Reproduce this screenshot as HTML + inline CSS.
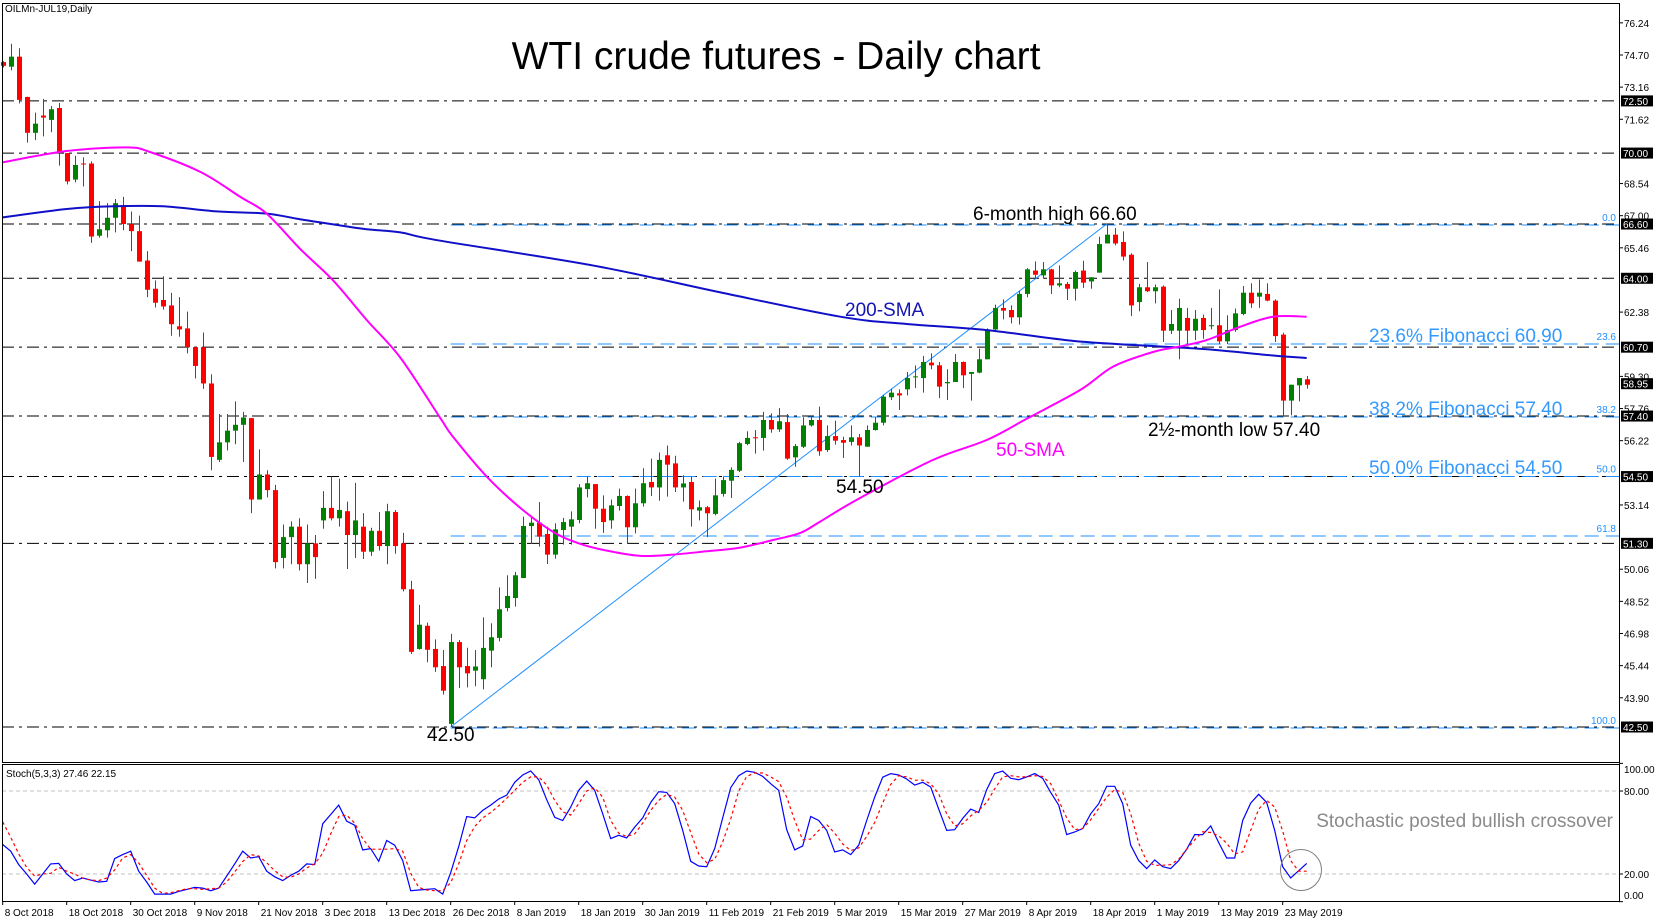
<!DOCTYPE html>
<html><head><meta charset="utf-8">
<style>
html,body{margin:0;padding:0;background:#fff;}
svg{display:block;font-family:"Liberation Sans",sans-serif;}
</style></head>
<body>
<svg id="chart" width="1662" height="919" viewBox="0 0 1662 919" xmlns="http://www.w3.org/2000/svg">
<rect x="0" y="0" width="1662" height="919" fill="#fff"/>
<g id="grid"></g>
<g id="fib"></g>
<g id="candles"></g>
<g id="smas"></g>
<g id="stoch"></g>
<g id="axes"></g>
<text x="5" y="12" font-size="10" fill="#000">OILMn-JUL19,Daily</text>
<text x="776" y="69" font-size="39" text-anchor="middle" fill="#000">WTI crude futures - Daily chart</text>
<text x="973" y="220" font-size="19" fill="#000">6-month high 66.60</text>
<text x="845" y="316" font-size="19" fill="#1414b4">200-SMA</text>
<text x="996" y="456" font-size="19" fill="#ff00ff">50-SMA</text>
<text x="1148" y="436" font-size="19" fill="#000">2½-month low 57.40</text>
<text x="836" y="493" font-size="19" fill="#000">54.50</text>
<text x="427" y="741" font-size="19" fill="#000">42.50</text>
<text x="1369" y="342" font-size="19" fill="#3399ff">23.6% Fibonacci 60.90</text>
<text x="1369" y="415" font-size="19" fill="#3399ff">38.2% Fibonacci 57.40</text>
<text x="1369" y="474" font-size="19" fill="#3399ff">50.0% Fibonacci 54.50</text>
<text x="6" y="777" font-size="10" fill="#000">Stoch(5,3,3) 27.46 22.15</text>
<text x="1613" y="827" font-size="19" text-anchor="end" fill="#8a8a8a">Stochastic posted bullish crossover</text>
<circle cx="1301" cy="870" r="20.5" fill="none" stroke="#808080" stroke-width="1"/>
</svg>
<script>
const opens=[74.36,74.14,74.62,72.69,70.97,71.8,71.59,72.16,70.0,68.73,69.5,69.5,66.04,66.3,66.9,67.5,66.6,66.26,64.85,63.5,62.96,62.7,61.7,61.6,60.7,60.7,58.96,55.3,56.14,56.7,56.98,57.3,53.4,54.6,53.85,50.6,51.6,52.1,50.3,51.3,52.4,53.0,52.5,52.84,51.7,52.1,50.9,51.9,51.17,52.8,51.3,49.1,46.24,47.35,46.24,45.42,42.65,46.57,45.42,45.2,44.79,46.16,46.77,48.2,48.68,49.64,52.13,52.29,51.75,50.76,51.94,52.1,52.42,53.9,54.14,52.96,52.4,53.09,53.57,52.07,53.22,54.24,53.98,55.52,55.13,53.98,54.24,52.87,53.03,52.71,53.67,54.3,54.78,56.06,56.38,56.35,57.21,56.76,57.11,55.42,55.93,56.95,57.21,55.77,56.44,56.25,56.16,56.38,55.93,56.73,57.08,58.3,58.49,58.68,59.26,59.22,59.96,59.83,58.97,59.03,59.99,59.42,59.48,60.12,61.55,62.58,62.48,62.13,63.25,64.37,64.14,64.43,63.66,63.73,63.5,64.37,63.85,64.27,65.67,66.09,65.74,65.13,62.86,63.57,63.38,63.6,61.49,61.49,62.1,61.49,62.1,61.7,61.75,60.98,61.52,62.29,63.31,63.12,63.25,62.93,61.3,58.14,58.87,59.16];
const closes=[74.18,74.62,72.55,70.97,71.41,71.7,72.1,70.0,68.64,69.43,69.47,66.0,66.35,66.9,67.6,66.6,66.26,64.8,63.45,62.83,62.65,61.8,61.55,60.7,59.8,58.96,55.44,56.14,56.7,56.98,57.33,53.4,54.6,53.85,50.4,51.6,52.1,50.3,51.3,50.64,53.0,52.5,52.9,51.7,52.4,50.9,51.9,51.17,52.84,51.17,49.1,46.1,47.4,46.2,45.36,44.24,46.57,45.36,45.07,45.4,46.29,46.8,48.14,48.78,49.77,52.13,52.29,51.62,50.76,51.97,52.32,52.45,53.98,54.18,52.96,52.32,53.12,53.57,52.07,53.22,54.18,53.98,55.3,55.07,53.98,54.17,52.93,53.03,52.74,53.6,54.33,54.82,56.1,56.35,56.35,57.21,56.76,57.15,55.36,55.96,56.95,57.21,55.71,56.44,56.22,56.12,56.38,55.99,56.73,57.08,58.33,58.52,58.39,59.22,59.3,59.99,59.83,58.81,59.03,59.99,59.35,59.51,60.12,61.55,62.58,62.45,62.13,63.25,64.43,64.17,64.43,63.66,63.76,63.5,64.3,63.79,64.05,65.64,66.09,65.67,65.04,62.7,63.57,63.38,63.57,61.49,61.81,62.58,61.49,62.06,61.52,61.75,60.98,61.52,62.32,63.31,62.8,63.31,62.93,61.23,58.14,58.9,59.22,58.9];
const highs=[74.4,75.24,75.02,72.7,71.94,72.6,72.25,72.4,70.0,69.87,69.8,69.6,67.7,67.6,67.8,67.9,67.2,67.0,65.3,63.9,64.1,63.3,63.1,62.4,60.7,61.4,59.4,57.5,57.5,58.1,57.6,57.3,55.8,54.8,54.1,52.2,52.35,52.5,52.2,51.7,53.8,54.5,54.4,53.3,54.2,52.75,52.05,52.8,53.2,52.9,51.8,49.5,48.35,47.5,46.7,46.19,46.96,46.67,46.3,46.19,47.75,47.47,49.19,49.77,49.93,52.58,52.58,53.28,52.1,52.26,52.52,52.83,54.14,54.5,54.14,53.6,53.4,53.92,53.6,53.92,54.9,55.36,55.65,55.99,55.5,54.56,54.5,53.35,53.09,54.4,54.5,54.94,56.16,56.67,56.73,57.6,57.53,57.78,57.5,56.06,57.34,57.34,57.85,56.95,57.18,56.41,56.95,56.54,56.95,57.34,58.42,58.71,58.68,59.51,59.83,60.28,60.4,59.99,59.64,60.37,60.02,59.51,60.63,61.6,62.74,62.99,62.7,63.41,64.49,64.81,64.78,64.46,64.62,63.82,64.37,64.84,64.05,65.99,66.6,66.41,66.25,65.2,63.73,64.78,63.7,63.66,62.48,63.02,62.58,62.48,62.26,62.58,63.47,62.23,62.55,63.63,63.76,63.95,63.76,62.99,61.39,58.9,59.22,59.32];
const lows=[74.1,73.96,72.38,70.5,70.62,70.8,71.0,69.4,68.5,68.6,68.4,65.7,65.95,65.95,66.2,66.3,65.3,64.8,63.1,62.6,62.5,61.25,61.2,60.4,59.2,58.7,54.8,55.2,55.75,56.05,55.2,52.75,53.4,53.5,50.1,50.1,50.3,50.0,49.4,49.6,52.0,52.4,52.1,50.07,50.6,50.55,50.7,50.95,50.3,50.8,49.0,46.0,46.2,45.6,45.14,44.05,42.5,44.37,44.4,44.45,44.3,45.36,46.6,48.04,48.27,49.64,51.27,51.14,50.31,50.57,51.24,51.24,52.26,53.5,52.0,51.8,52.0,52.87,51.3,51.78,53.06,53.57,53.34,53.54,53.76,53.3,52.1,52.4,51.6,52.64,53.54,53.47,54.72,56.0,55.6,55.74,56.6,56.64,55.3,54.97,55.87,56.89,55.5,55.68,56.03,55.39,55.99,54.5,55.93,56.7,56.95,58.17,57.69,58.39,58.74,58.52,59.64,58.26,58.17,59.03,58.74,58.14,59.45,60.12,61.49,62.03,61.84,61.78,63.09,63.98,63.98,63.25,63.57,62.96,62.93,63.54,63.5,64.27,65.67,65.58,64.85,62.19,62.42,63.34,62.8,60.95,61.33,60.12,60.79,61.04,61.1,61.55,60.85,60.85,61.43,62.23,62.58,62.58,62.9,60.95,57.37,57.43,58.1,58.71];
const sma50Bars=[0,8,15.5,18.4,24.7,29.7,33,37.2,41.3,45.5,49.7,54.7,56.3,60.5,64.7,68.8,72,75.5,79.7,83.8,88,92,96.3,99.7,102,107,116.3,123,128,134.7,138.8,143.8,147,150.5,154.7,158.8,163];
const sma50Vals=[69.56,70.1,70.27,70.05,69.1,67.9,67.1,65.4,63.9,62.0,60.2,57.3,56.4,54.5,53.0,51.85,51.3,50.95,50.7,50.76,50.92,51.08,51.46,51.8,52.3,53.44,55.3,56.25,57.27,58.65,59.77,60.47,60.72,61.04,61.68,62.16,62.16];
const sma200Bars=[0,8,14,20,27,33,37,41,45.5,49.7,54.7,74,90,104.7,113,123,133.8,142,150.5,158.8,163];
const sma200Vals=[66.92,67.32,67.45,67.45,67.2,67.1,66.84,66.6,66.35,66.2,65.8,64.6,63.3,62.16,61.81,61.52,61.0,60.79,60.6,60.3,60.18];
const stochK=[41.3,36.5,26.8,20,12.7,20,27.3,27.7,20,15.2,17.1,15.6,14.2,14.7,31.1,34,36.5,22,14.2,5.5,5.5,5.5,7.4,8.9,10.3,9.8,7.9,9.8,18.5,27.3,36.5,31.6,32.6,22,18,15.2,19,22,27.3,26.8,56.3,63,69.8,58.2,55.3,37.4,38.4,29.2,44.2,40.8,29.7,7.9,8.4,8.9,9.4,5.5,21,39.8,61.6,60.6,66,69.8,74.2,77,86.3,91.6,94.5,88.2,73.7,61,58.7,68.4,80.5,87.2,80.5,63.5,45.6,48,46.1,53.9,60.6,71.7,79.5,79,70.8,51.5,29.2,25.8,25.3,38.4,60.6,82.4,91.1,94.5,93.5,90.6,85.3,80.5,52,37.4,40.3,61.6,58.7,51.5,36,37.4,34,40.8,58.7,75.6,90,92.6,91.6,88.7,84.3,86.3,82.9,66.9,51.5,52,60.2,66.9,64.5,81,92.6,94.5,89.2,88.2,90.2,92.6,89.2,79,69.8,48.5,50.4,52.9,63.5,70.8,83.4,83.4,70.8,40.8,29.7,23.9,30.2,25.3,23.9,29.7,37.9,48.5,48.5,54.8,42.7,31.6,31.6,58.7,71.3,77.6,71.8,51.5,25.3,17.1,22.4,27.7];
const stochD=[57.7,46.6,34.5,24.8,18.5,20,20.5,24.8,22,20,17,15.6,15.2,17,23,31.6,34,28,19,9.8,6,6.5,7.9,9.4,9.4,8.9,9.4,9.8,14.2,21.5,29,34,33,28.2,22.4,18,17.6,20,24.4,27.3,35,49,61.6,62.6,56.8,45.6,37.9,37.9,37.9,38.4,36.5,20.5,10.3,8.4,7.9,7.9,13.7,27.3,44.2,54.3,60.6,64.5,69.3,74.7,80.5,86.3,90.2,90.2,84.3,73.2,65,62.6,70.8,80,82.4,75.6,58.7,49.5,47.1,49,56.8,66,73.2,77.6,75.6,66,50,34.5,28.2,30.6,43.2,59.7,80,90.6,93,93,90.2,86.8,75.6,58.7,44.7,45.2,51.5,55.8,49.5,41.8,36.9,38.9,47.1,57.3,71.3,84.8,91.1,90.2,87.8,87.8,85.3,78,63.5,54.8,56.3,62,66,71.8,81.5,90.2,91.1,90.2,90.2,91.1,90.6,85.3,73.2,60.6,52,52.9,59.2,67.4,75.6,81,79,63.5,42.3,29.2,26.3,26.3,26.8,30.6,37.9,44.7,50.5,50,47.6,42.3,34.5,36,51.5,66.9,73.2,68.4,51,29.7,22,22];
const levelPrices=[72.50,70.00,66.60,64.00,60.70,57.40,54.50,51.30,42.50];
const fibLevels=["0.0","23.6","38.2","50.0","61.8","100.0"];
const fibPrices=[66.60,60.90,57.40,54.55,51.70,42.50];
const priceTicks=["76.24","74.70","73.16","71.62","68.54","67.00","65.46","62.38","59.30","57.76","56.22","53.14","50.06","48.52","46.98","45.44","43.90"];
const lastPrice=58.95;
const dateLabels=["8 Oct 2018","18 Oct 2018","30 Oct 2018","9 Nov 2018","21 Nov 2018","3 Dec 2018","13 Dec 2018","26 Dec 2018","8 Jan 2019","18 Jan 2019","30 Jan 2019","11 Feb 2019","21 Feb 2019","5 Mar 2019","15 Mar 2019","27 Mar 2019","8 Apr 2019","18 Apr 2019","1 May 2019","13 May 2019","23 May 2019"];
const stochTicks=["100.00","80.00","20.00","0.00"];
const stochTickVals=[100,80,20,0];

const NS="http://www.w3.org/2000/svg";
const AXX=1619, MAIN_TOP=3, MAIN_BOT=762, ST_TOP=764, ST_BOT=901;
function xb(i){return 2.7+8*i;}
function yp(p){return 727-(p-42.5)*20.87;}
function ys(s){return 874-(s-20)*1.383;}
function mk(parent,tag,attrs,text){const e=document.createElementNS(NS,tag);for(const k in attrs)e.setAttribute(k,attrs[k]);if(text!==undefined)e.textContent=text;parent.appendChild(e);return e;}

const grid=document.getElementById('grid');
levelPrices.forEach(p=>{
  const l=mk(grid,'line',{x1:2,x2:AXX,y1:yp(p),y2:yp(p),stroke:'#000','stroke-width':1,'stroke-dasharray':'12,5,3,5'});
  
  
});
const fib=document.getElementById('fib');
const fibStart=xb(56);
fibPrices.forEach((p,k)=>{
  const l=mk(fib,'line',{x1:fibStart,x2:AXX,y1:yp(p)+1,y2:yp(p)+1,stroke:'#1e90ff','stroke-width':1,'stroke-dasharray':'14,7'});
  
  
  const t=mk(fib,'text',{x:AXX-3,y:yp(p)-3,'font-size':10,'text-anchor':'end',fill:'#1e90ff'},fibLevels[k]);
  
  
});
const tl=mk(fib,'line',{x1:xb(56),y1:yp(lows[56]),x2:xb(138),y2:yp(highs[138]),stroke:'#1e90ff','stroke-width':1});



const cg=document.getElementById('candles');
for(let i=0;i<opens.length;i++){
  const up=closes[i]>=opens[i];
  const col=up?'#008000':'#ff0000';
  const x=Math.round(xb(i));
  const w=mk(cg,'line',{x1:x+0.5,x2:x+0.5,y1:yp(highs[i]),y2:yp(lows[i]),stroke:col,'stroke-width':1});
  
  
  const top=yp(Math.max(opens[i],closes[i])),bot=yp(Math.min(opens[i],closes[i]));
  const b=mk(cg,'rect',{x:x-2,y:top,width:5,height:Math.max(1,bot-top),fill:col});
  
  
}
const sg=document.getElementById('smas');
function pts(bars,vals,f){return bars.map((b,k)=>xb(b).toFixed(1)+','+f(vals[k]).toFixed(1)).join(' ');}
function smooth(bars,vals,f){
  const P=bars.map((b,k)=>[xb(b),f(vals[k])]);
  let d='M'+P[0][0].toFixed(1)+','+P[0][1].toFixed(1);
  for(let i=0;i<P.length-1;i++){
    const p0=P[Math.max(0,i-1)],p1=P[i],p2=P[i+1],p3=P[Math.min(P.length-1,i+2)];
    const c1=[p1[0]+(p2[0]-p0[0])/6,p1[1]+(p2[1]-p0[1])/6];
    const c2=[p2[0]-(p3[0]-p1[0])/6,p2[1]-(p3[1]-p1[1])/6];
    d+=' C'+c1[0].toFixed(1)+','+c1[1].toFixed(1)+' '+c2[0].toFixed(1)+','+c2[1].toFixed(1)+' '+p2[0].toFixed(1)+','+p2[1].toFixed(1);
  }
  return d;
}
const s200=mk(sg,'path',{d:smooth(sma200Bars,sma200Vals,yp),fill:'none',stroke:'#1010c8','stroke-width':2});


const s50=mk(sg,'path',{d:smooth(sma50Bars,sma50Vals,yp),fill:'none',stroke:'#ff00ff','stroke-width':2});



const st=document.getElementById('stoch');
[80,20].forEach(v=>{
  const l=mk(st,'line',{x1:2,x2:AXX,y1:ys(v),y2:ys(v),stroke:'#c0c0c0','stroke-width':1,'stroke-dasharray':'4,3'});
  
  
});
const idx=stochK.map((_,i)=>i);
const kl=mk(st,'polyline',{points:pts(idx,stochK,ys),fill:'none',stroke:'#0000ff','stroke-width':1.2});


const dl=mk(st,'polyline',{points:pts(idx,stochD,ys),fill:'none',stroke:'#ff0000','stroke-width':1.2,'stroke-dasharray':'3,3'});



const ax=document.getElementById('axes');
const frames=[[2,MAIN_TOP,AXX-2,MAIN_BOT-MAIN_TOP],[2,ST_TOP,AXX-2,ST_BOT-ST_TOP]];
frames.forEach(f=>{
  const r=mk(ax,'rect',{x:f[0]+0.5,y:f[1]+0.5,width:f[2],height:f[3],fill:'none',stroke:'#000','stroke-width':1});
  
  
});
priceTicks.forEach(t=>{
  const y=yp(parseFloat(t));
  const m=mk(ax,'line',{x1:AXX,x2:AXX+4,y1:y,y2:y,stroke:'#000'});
  
  
  const tx=mk(ax,'text',{x:AXX+5,y:y+4,'font-size':10,fill:'#000'},t);
  
  
});
levelPrices.concat([lastPrice]).forEach(p=>{
  const y=yp(p);
  const r=mk(ax,'rect',{x:AXX+2,y:y-5.5,width:32,height:11,fill:'#000'});
  
  
  const tx=mk(ax,'text',{x:AXX+4,y:y+4,'font-size':10,fill:'#fff'},p.toFixed(2));
  
  
});
stochTicks.forEach((t,k)=>{
  const y=ys(stochTickVals[k]);
  const m=mk(ax,'line',{x1:AXX,x2:AXX+4,y1:y,y2:y,stroke:'#000'});
  
  
  const tx=mk(ax,'text',{x:AXX+5,y:Math.min(Math.max(y+4,773),899),'font-size':10,fill:'#000'},t);
  
  
});
dateLabels.forEach((d,k)=>{
  const x=xb(k*8);
  const m=mk(ax,'line',{x1:x,x2:x,y1:ST_BOT,y2:ST_BOT+4,stroke:'#000'});
  
  
  const tx=mk(ax,'text',{x:x+2,y:916,'font-size':10,fill:'#000'},d);
  
  
});
</script>
</body></html>
